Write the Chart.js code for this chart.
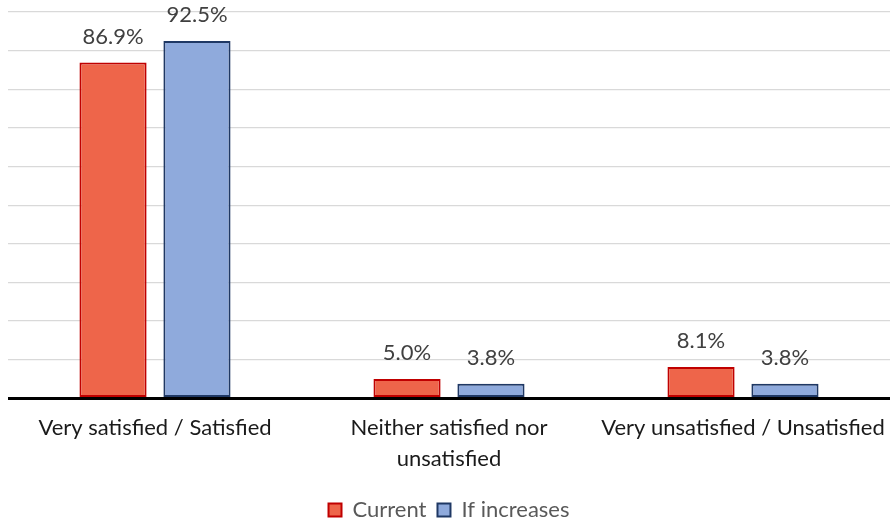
<!DOCTYPE html>
<html>
<head>
<meta charset="utf-8">
<script src="https://cdn.jsdelivr.net/npm/chart.js@4/dist/chart.umd.min.js"></script>
<style>
  html, body { margin: 0; padding: 0; background: #ffffff; overflow: hidden; }
  #wrap { width: 890px; height: 523px; position: relative; }
</style>
</head>
<body>
<div id="wrap"><canvas id="chart"></canvas></div>
<script>
// Satisfaction categories and the two response series (percent)
const categories = [
  'Very satisfied / Satisfied',
  ['Neither satisfied nor', 'unsatisfied'],
  'Very unsatisfied / Unsatisfied'
];
const currentValues = [86.9, 5.0, 8.1];
const increasesValues = [92.5, 3.8, 3.8];
const seriesNames = ['Current', 'If increases'];

const FONT = 'Lato, "Open Sans", sans-serif';

// Writes each bar's value above it and redraws the zero line over the bar bottoms
const valueLabels = {
  id: 'valueLabels',
  afterDatasetsDraw(chart) {
    const ctx = chart.ctx;
    const area = chart.chartArea;
    const y0 = chart.scales.y.getPixelForValue(0);
    ctx.save();
    ctx.strokeStyle = '#000000';
    ctx.lineWidth = 3;
    ctx.beginPath();
    ctx.moveTo(area.left, y0);
    ctx.lineTo(area.right, y0);
    ctx.stroke();

    ctx.font = '22px ' + FONT;
    ctx.fillStyle = '#404040';
    ctx.textAlign = 'center';
    ctx.textBaseline = 'alphabetic';
    chart.data.datasets.forEach((ds, i) => {
      chart.getDatasetMeta(i).data.forEach((bar, j) => {
        ctx.fillText(ds.data[j].toFixed(1) + '%', bar.x, bar.y - 19);
      });
    });
    ctx.restore();
  }
};

new Chart(document.getElementById('chart'), {
  type: 'bar',
  data: {
    labels: categories,
    datasets: [
      {
        label: seriesNames[0],
        data: currentValues,
        backgroundColor: '#EE654A',
        borderColor: '#C00000',
        borderWidth: 2,
        borderSkipped: false,
        categoryPercentage: 0.571,
        barPercentage: 0.8
      },
      {
        label: seriesNames[1],
        data: increasesValues,
        backgroundColor: '#8FAADC',
        borderColor: '#1F3864',
        borderWidth: 2,
        borderSkipped: false,
        categoryPercentage: 0.571,
        barPercentage: 0.8
      }
    ]
  },
  options: {
    responsive: true,
    maintainAspectRatio: false,
    animation: false,
    layout: { padding: { left: 8, right: 0, top: 12, bottom: -8 } },
    plugins: {
      tooltip: { enabled: false },
      legend: {
        position: 'bottom',
        labels: {
          font: { family: FONT, size: 22 },
          color: '#595959',
          boxWidth: 13,
          boxHeight: 13,
          padding: 11
        }
      }
    },
    scales: {
      x: {
        grid: { display: false, drawTicks: false },
        border: { display: false },
        ticks: {
          font: { family: FONT, size: 22, lineHeight: 1.4 },
          color: '#1a1a1a',
          padding: 14,
          maxRotation: 0,
          autoSkip: false
        },
        // let the outer labels run to the canvas edge instead of narrowing the plot
        afterFit(scale) {
          scale.paddingLeft = 0;
          scale.paddingRight = 0;
        }
      },
      y: {
        min: 0,
        max: 100,
        ticks: { display: false, stepSize: 10 },
        border: { display: false },
        grid: {
          drawTicks: false,
          color: ctx => ctx.tick && ctx.tick.value === 0 ? '#000000' : '#D9D9D9',
          lineWidth: ctx => ctx.tick && ctx.tick.value === 0 ? 3 : 1.3
        }
      }
    }
  },
  plugins: [valueLabels]
});
</script>
</body>
</html>
